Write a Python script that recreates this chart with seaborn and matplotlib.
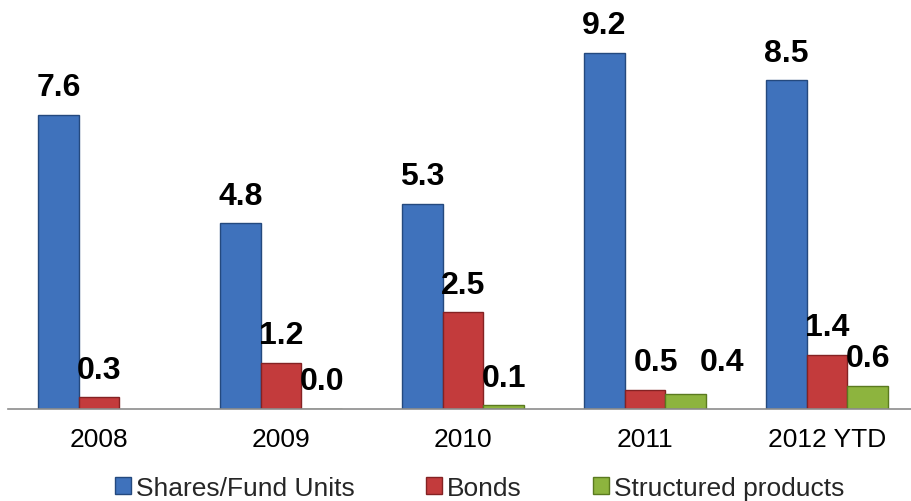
import matplotlib
matplotlib.use("Agg")
import matplotlib.pyplot as plt
import seaborn as sns
import pandas as pd
import numpy as np
from matplotlib.ticker import FixedLocator
from matplotlib.patches import Patch

years = ["2008", "2009", "2010", "2011", "2012 YTD"]
series = ["Shares/Fund Units", "Bonds", "Structured products"]
shares = [7.6, 4.8, 5.3, 9.2, 8.5]
bonds = [0.3, 1.2, 2.5, 0.5, 1.4]
structured = [np.nan, 0.0, 0.1, 0.4, 0.6]

colors = ["#3F72BC", "#C33B3C", "#8DB43E"]
edges = ["#24497E", "#842223", "#5A7A1F"]

# manual label nudges (points) as in the original chart, (series index, year index) -> (dx, dy)
label_nudge = {(1, 3): (8, 0), (2, 3): (26, 3)}

rows = []
for s, vals in zip(series, [shares, bonds, structured]):
    for y, v in zip(years, vals):
        rows.append({"year": y, "series": s, "value": v})
df = pd.DataFrame(rows)

sns.set_theme(style="white")
plt.rcParams["font.family"] = ["Liberation Sans", "DejaVu Sans"]

W, H = 911, 502
fig = plt.figure(figsize=(W / 100, H / 100), dpi=100)
left, right = 8, 918
bottom_px, top_px = 410, 23
ax = fig.add_axes([left / W, (H - bottom_px) / H, (right - left) / W, (bottom_px - top_px) / H])

sns.barplot(data=df.dropna(), x="year", y="value", hue="series", order=years, hue_order=series,
            palette=colors, width=0.67, ax=ax, legend=False, saturation=1, errorbar=None)

all_vals = [shares, bonds, structured]
for i, cont in enumerate(ax.containers):
    for p in cont.patches:
        if p is None:
            continue
        p.set_edgecolor(edges[i])
        p.set_linewidth(1.0)
        xc = p.get_x() + p.get_width() / 2
        idx = int(round(xc))
        v = all_vals[i][idx]
        if np.isnan(v):
            continue
        dx, dy = label_nudge.get((i, idx), (0, 0))
        ax.annotate(f"{v:.1f}", (xc, p.get_height()), xytext=(dx, 9 + dy), textcoords="offset points",
                    ha="center", va="bottom", fontsize=23, fontweight="bold", color="black")

ax.set_ylim(0, 10)
ax.set_xlim(-0.5, 4.5)
ax.set_xlabel("")
ax.set_ylabel("")
ax.set_yticks([])
for sp in ["top", "right", "left"]:
    ax.spines[sp].set_visible(False)
ax.spines["bottom"].set_color("#8C8C8C")
ax.spines["bottom"].set_linewidth(1.2)
ax.tick_params(axis="x", which="major", length=0, labelsize=19, pad=13, labelcolor="black")
ax.xaxis.set_minor_locator(FixedLocator([-0.5, 0.5, 1.5, 2.5, 3.5, 4.5]))
ax.tick_params(axis="x", which="minor", length=6, width=1.2, color="#8C8C8C", direction="out")

handles = [Patch(facecolor=c, edgecolor=e, label=s) for c, e, s in zip(colors, edges, series)]
fig.legend(handles=handles, loc="center", bbox_to_anchor=(480 / W, 0.026), ncol=3, frameon=False,
           fontsize=19, handlelength=0.6, handleheight=0.6, handletextpad=0.2, columnspacing=2.7,
           borderpad=0, borderaxespad=0)

fig.savefig("out.png", dpi=100)
